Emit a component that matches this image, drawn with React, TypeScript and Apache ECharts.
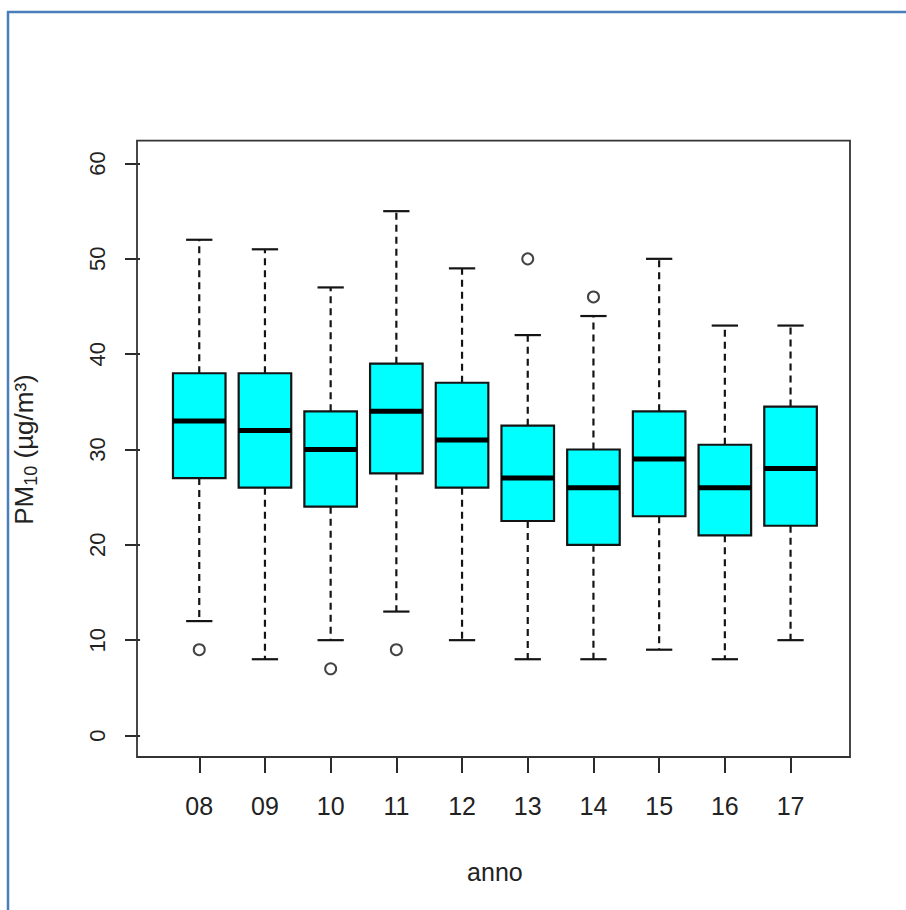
import React, { useEffect, useRef } from "react";
import * as echarts from "echarts";

const years = ["08", "09", "10", "11", "12", "13", "14", "15", "16", "17"];
const lowerWhisker = [12, 8, 10, 13, 10, 8, 8, 9, 8, 10];
const q1 = [27, 26, 24, 27.5, 26, 22.5, 20, 23, 21, 22];
const median = [33, 32, 30, 34, 31, 27, 26, 29, 26, 28];
const q3 = [38, 38, 34, 39, 37, 32.5, 30, 34, 30.5, 34.5];
const upperWhisker = [52, 51, 47, 55, 49, 42, 44, 50, 43, 43];
const outlierYear = ["08", "10", "11", "13", "14"];
const outlierValue = [9, 7, 9, 50, 46];
const yTicks = [0, 60, 10]; // min, max, interval

export default function App() {
  const ref = useRef<HTMLDivElement>(null);
  useEffect(() => {
    if (!ref.current) return;
    const chart = echarts.init(ref.current, null, { renderer: "svg" });
    const boxData = years.map((_, i) => [i, lowerWhisker[i], q1[i], median[i], q3[i], upperWhisker[i]]);
    const outData = outlierYear.map((y, i) => [years.indexOf(y), outlierValue[i]]);
    const ink = "#141414";
    const font = "Liberation Sans, Arial, sans-serif";
    chart.setOption({
      animation: false,
      backgroundColor: "#ffffff",
      grid: { left: 163.4, right: 82.6, top: 163.5, bottom: 910 - 735.5 },
      xAxis: {
        type: "category",
        data: years,
        offset: 21.5,
        boundaryGap: true,
        axisLine: { show: false, onZero: false },
        axisTick: { show: true, alignWithLabel: true, length: 16, lineStyle: { color: ink, width: 1.8 } },
        axisLabel: { color: "#222", fontSize: 25, fontFamily: font, margin: 36, interval: 0 },
        splitLine: { show: false },
        name: "anno",
        nameLocation: "middle",
        nameGap: 102,
        nameTextStyle: { color: "#222", fontSize: 25, fontFamily: font },
      },
      yAxis: {
        type: "value",
        min: yTicks[0],
        max: yTicks[1],
        interval: yTicks[2],
        offset: 26.4,
        axisLine: { show: false, onZero: false },
        axisTick: { show: true, length: 15, lineStyle: { color: ink, width: 1.8 } },
        axisLabel: { color: "#222", fontSize: 22, fontFamily: font, rotate: 90, margin: 32 },
        splitLine: { show: false },
        name: "PM{s|10} (µg/m³)",
        nameLocation: "middle",
        nameRotate: 90,
        nameGap: 100,
        nameTextStyle: {
          color: "#222",
          fontSize: 26,
          fontFamily: font,
          lineHeight: 32,
          rich: {
            s: { fontSize: 18, fontFamily: font, color: "#222", verticalAlign: "bottom", lineHeight: 20 },
          },
        },
      },
      graphic: [
        { type: "line", shape: { x1: 7, y1: 12, x2: 906, y2: 12 }, style: { stroke: "#4a7ebb", lineWidth: 2.5 }, silent: true },
        { type: "line", shape: { x1: 8, y1: 11, x2: 8, y2: 910 }, style: { stroke: "#4a7ebb", lineWidth: 2.5 }, silent: true },
        { type: "rect", shape: { x: 137, y: 140.7, width: 713, height: 616.3 }, style: { fill: "none", stroke: "#333", lineWidth: 1.8 }, silent: true, z: 10 },
      ],
      series: [
        {
          type: "custom",
          data: boxData,
          encode: { x: 0, y: [1, 2, 3, 4, 5] },
          renderItem: (params: any, api: any) => {
            const idx = api.value(0);
            const bw = api.size([1, 0])[0];
            const cx = api.coord([idx, api.value(3)])[0];
            const yLow = api.coord([idx, api.value(1)])[1];
            const yQ1 = api.coord([idx, api.value(2)])[1];
            const yMed = api.coord([idx, api.value(3)])[1];
            const yQ3 = api.coord([idx, api.value(4)])[1];
            const yHigh = api.coord([idx, api.value(5)])[1];
            const hb = bw * 0.4;
            const hc = bw * 0.2;
            const dash = { stroke: ink, lineWidth: 2.2, lineDash: [7, 5] };
            const solid = { stroke: ink, lineWidth: 2.2 };
            return {
              type: "group",
              children: [
                { type: "line", shape: { x1: cx, y1: yQ3, x2: cx, y2: yHigh }, style: dash },
                { type: "line", shape: { x1: cx, y1: yQ1, x2: cx, y2: yLow }, style: dash },
                { type: "line", shape: { x1: cx - hc, y1: yHigh, x2: cx + hc, y2: yHigh }, style: solid },
                { type: "line", shape: { x1: cx - hc, y1: yLow, x2: cx + hc, y2: yLow }, style: solid },
                { type: "rect", shape: { x: cx - hb, y: yQ3, width: hb * 2, height: yQ1 - yQ3 }, style: { fill: "#00ffff", stroke: ink, lineWidth: 2.2 } },
                { type: "line", shape: { x1: cx - hb, y1: yMed, x2: cx + hb, y2: yMed }, style: { stroke: "#000", lineWidth: 5 } },
              ],
            };
          },
        },
        {
          type: "scatter",
          data: outData,
          symbol: "circle",
          symbolSize: 11,
          itemStyle: { color: "#ffffff", borderColor: ink, borderWidth: 2 },
        },
      ],
    });
    return () => chart.dispose();
  }, []);
  return <div ref={ref} style={{ position: "fixed", left: 0, top: 0, width: 906, height: 910 }} />;
}
